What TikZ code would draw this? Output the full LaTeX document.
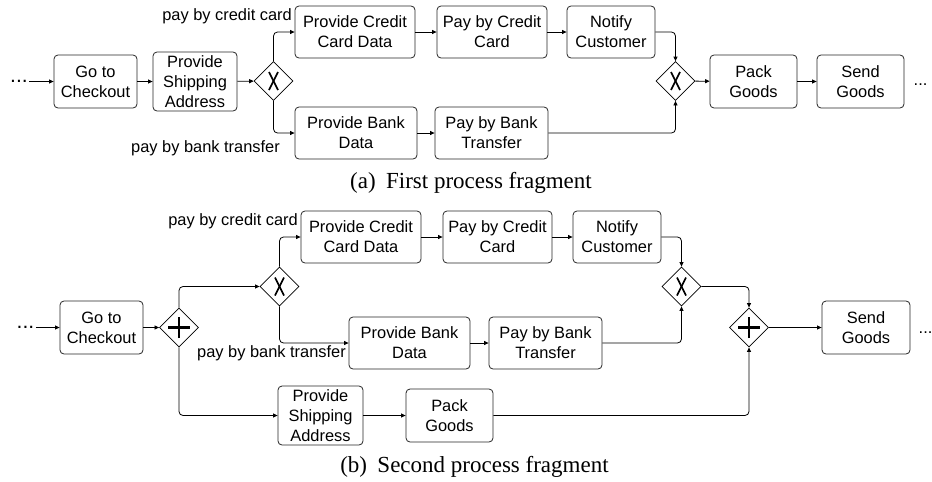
\documentclass[tikz,border=0pt]{standalone}
\usepackage{fontspec}
\setmainfont{Liberation Sans}
\newfontfamily\capfont{Liberation Serif}
\usetikzlibrary{shapes.geometric,arrows.meta}
\tikzset{
  box/.style={draw=black!85, line width=0.8pt, rounded corners=4pt, align=center,
    inner sep=1pt, font=\fontsize{16.4}{20}\selectfont},
  gate/.style={diamond, draw=black, line width=0.8pt, aspect=1, inner sep=0pt, minimum size=39pt},
  xgate/.style={gate, path picture={
    \draw[line width=1.7pt] ([xshift=-4.5pt,yshift=-9pt]path picture bounding box.center) -- ++(9pt,18pt);
    \draw[line width=1.7pt] ([xshift=4.5pt,yshift=-9pt]path picture bounding box.center) -- ++(-9pt,18pt);}},
  pgate/.style={gate, path picture={
    \draw[line width=2.8pt] ([xshift=-11pt]path picture bounding box.center) -- ++(22pt,0pt);
    \draw[line width=2.8pt] ([yshift=-10.5pt]path picture bounding box.center) -- ++(0pt,21pt);}},
  arr/.style={draw=black, line width=0.8pt, rounded corners=4pt, -{Triangle[length=4.5pt,width=4pt]}},
  lbl/.style={inner sep=0pt, font=\fontsize{16.4}{20}\selectfont},
  dotsn/.style={inner xsep=1.5pt, inner ysep=0pt, font=\fontsize{21}{24}\selectfont},
  dotsr/.style={inner sep=0pt, font=\fontsize{16.4}{20}\selectfont},
  captext/.style={inner sep=0pt, font=\capfont\fontsize{23}{26}\selectfont},
}
\begin{document}
\begin{tikzpicture}[x=1pt,y=-1pt]
\useasboundingbox (0,0) rectangle (932,482);
% ---------- (a) ----------
\node[dotsn, anchor=base west] (d1) at (8.5,82) {...};
\node[box, minimum width=83pt, minimum height=53pt] (go1) at (95.5,81.5) {Go to\\Checkout};
\node[box, minimum width=84pt, minimum height=59pt] (ship1) at (195,81.5) {Provide\\Shipping\\Address};
\node[xgate] (x1) at (273.5,81) {};
\node[box, minimum width=120pt, minimum height=52pt] (cc1) at (355,32) {Provide Credit\\Card Data};
\node[box, minimum width=110pt, minimum height=52pt] (pcc1) at (492,32) {Pay by Credit\\Card};
\node[box, minimum width=88pt, minimum height=52pt] (not1) at (611,32) {Notify\\Customer};
\node[box, minimum width=122pt, minimum height=52pt] (bank1) at (356,133) {Provide Bank\\Data};
\node[box, minimum width=113pt, minimum height=52pt] (pbt1) at (491.5,133) {Pay by Bank\\Transfer};
\node[xgate] (x2) at (675.5,81) {};
\node[box, minimum width=87pt, minimum height=53pt] (pack1) at (753.5,81.5) {Pack\\Goods};
\node[box, minimum width=87pt, minimum height=53pt] (send1) at (860.5,81.5) {Send\\Goods};
\node[dotsr, anchor=base west] (d2) at (913.5,85.5) {...};
\node[lbl, anchor=east] (l1) at (292,16) {pay by credit card};
\node[lbl, anchor=east] (l2) at (280,148) {pay by bank transfer};
\node[captext] (capa) at (471,183) {(a)\hspace{0.45em}First process fragment};
\draw[arr] (d1.east |- go1.west) -- (go1);
\draw[arr] (go1) -- (ship1);
\draw[arr] (ship1) -- (x1);
\draw[arr] (x1.north) |- (cc1.west);
\draw[arr] (x1.south) |- (bank1.west);
\draw[arr] (cc1) -- (pcc1);
\draw[arr] (pcc1) -- (not1);
\draw[arr] (bank1) -- (pbt1);
\draw[arr] (not1.east) -| (x2.north);
\draw[arr] (pbt1.east) -| (x2.south);
\draw[arr] (x2) -- (pack1);
\draw[arr] (pack1) -- (send1);
% ---------- (b) ----------
\node[dotsn, anchor=base west] (d3) at (15,328.5) {...};
\node[box, minimum width=83pt, minimum height=53pt] (go2) at (101.5,327.5) {Go to\\Checkout};
\node[pgate] (p1) at (179,327.5) {};
\node[xgate] (x3) at (279.5,286.5) {};
\node[box, minimum width=120pt, minimum height=52pt] (cc2) at (361,237) {Provide Credit\\Card Data};
\node[box, minimum width=109pt, minimum height=52pt] (pcc2) at (497.5,237) {Pay by Credit\\Card};
\node[box, minimum width=88pt, minimum height=52pt] (not2) at (617,237) {Notify\\Customer};
\node[xgate] (x4) at (681.5,286.5) {};
\node[box, minimum width=121pt, minimum height=52pt] (bank2) at (409.5,343) {Provide Bank\\Data};
\node[box, minimum width=113pt, minimum height=52pt] (pbt2) at (545.5,343) {Pay by Bank\\Transfer};
\node[box, minimum width=85pt, minimum height=59pt] (ship2) at (320.5,415.5) {Provide\\Shipping\\Address};
\node[box, minimum width=87pt, minimum height=53pt] (pack2) at (449.5,415.5) {Pack\\Goods};
\node[pgate] (p2) at (749,327.5) {};
\node[box, minimum width=88pt, minimum height=53pt] (send2) at (866,327.5) {Send\\Goods};
\node[dotsr, anchor=base west] (d4) at (918.5,333.5) {...};
\node[lbl, anchor=east] (l3) at (298,221) {pay by credit card};
\node[lbl, anchor=east] (l4) at (346,353) {pay by bank transfer};
\node[captext] (capb) at (474.5,466.5) {(b)\hspace{0.45em}Second process fragment};
\draw[arr] (d3.east |- go2.west) -- (go2);
\draw[arr] (go2) -- (p1);
\draw[arr] (p1.north) |- (x3.west);
\draw[arr] (x3.north) |- (cc2.west);
\draw[arr] (x3.south) |- (bank2.west);
\draw[arr] (p1.south) |- (ship2.west);
\draw[arr] (cc2) -- (pcc2);
\draw[arr] (pcc2) -- (not2);
\draw[arr] (bank2) -- (pbt2);
\draw[arr] (ship2) -- (pack2);
\draw[arr] (not2.east) -| (x4.north);
\draw[arr] (pbt2.east) -| (x4.south);
\draw[arr] (x4.east) -| (p2.north);
\draw[arr] (pack2.east) -| (p2.south);
\draw[arr] (p2) -- (send2);
\end{tikzpicture}
\end{document}
